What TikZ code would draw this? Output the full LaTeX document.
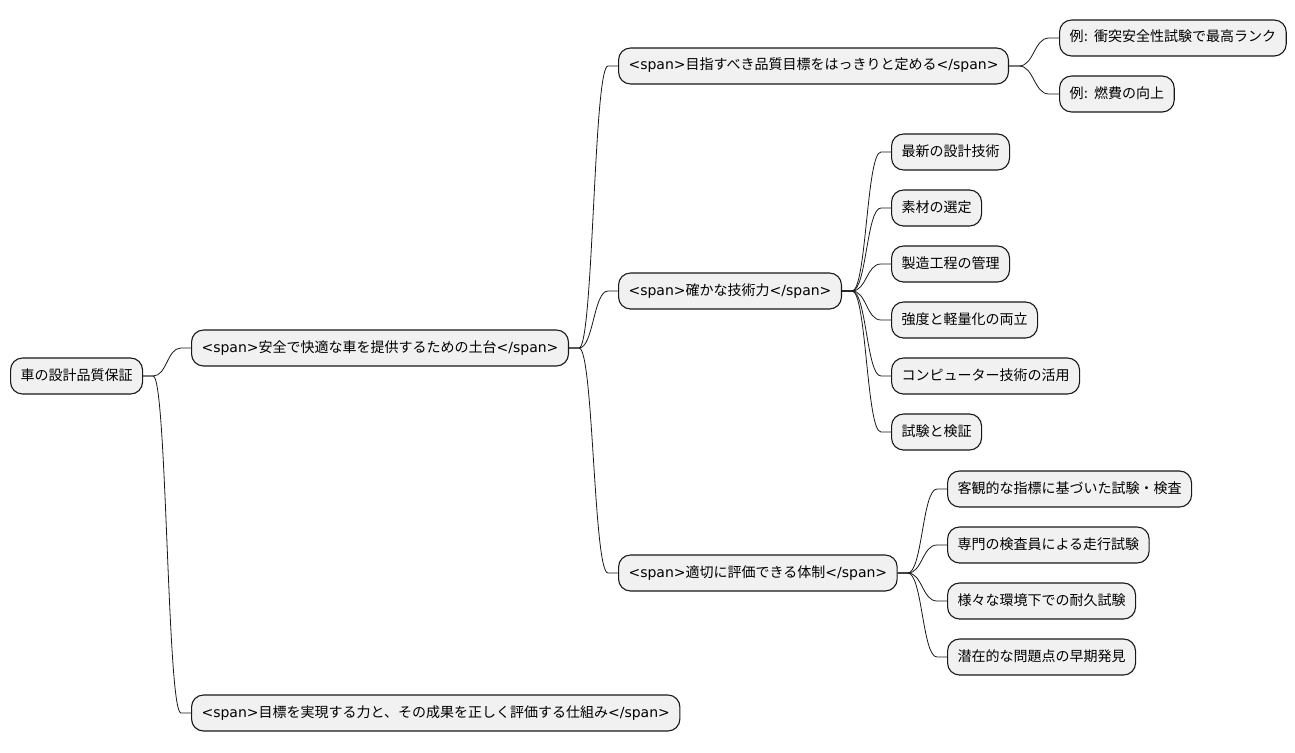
\documentclass[tikz,border=0pt]{standalone}
\usepackage{fontspec}
\setmainfont{DejaVu Sans}
\newfontfamily\jp{Noto Sans CJK JP}
\usetikzlibrary{calc}
\definecolor{mmfill}{RGB}{241,241,241}
\definecolor{mmline}{RGB}{24,24,24}
\newcommand\mmlink[2]{%
  \draw[conn] let \p1=(#1.east), \p2=(#2.west) in
    (\p1) -- (\x1+10pt,\y1)
    .. controls ({(\x1+\x2)/2},\y1) and ({(\x1+\x2)/2},\y2) ..
    (\x2-10pt,\y2) -- (\p2);}
\begin{document}
\begin{tikzpicture}[x=1pt,y=-1pt,
  mm/.style={draw=mmline, fill=mmfill, rounded corners=12pt, line width=1.1pt,
    minimum height=36pt, inner xsep=10pt, inner ysep=0pt, anchor=west,
    text height=11pt, text depth=3pt, font=\fontsize{14}{17}\selectfont},
  conn/.style={draw=mmline, line width=0.8pt}]
\useasboundingbox (0,0) rectangle (1295,752);
\node[mm] (root) at (10,376) {\jp 車の設計品質保証};
\node[mm] (a) at (191,348) {<span>{\jp 安全で快適な車を提供するための土台}</span>};
\node[mm] (b) at (191,713) {<span>{\jp 目標を実現する力と、その成果を正しく評価する仕組み}</span>};
\node[mm] (c1) at (618,66) {<span>{\jp 目指すべき品質目標をはっきりと定める}</span>};
\node[mm] (c2) at (618,291) {<span>{\jp 確かな技術力}</span>};
\node[mm] (c3) at (618,573) {<span>{\jp 適切に評価できる体制}</span>};
\node[mm] (d1) at (1059,38) {{\jp 例}: {\jp 衝突安全性試験で最高ランク}};
\node[mm] (d2) at (1059,94) {{\jp 例}: {\jp 燃費の向上}};
\node[mm] (e1) at (891,152) {\jp 最新の設計技術};
\node[mm] (e2) at (891,208) {\jp 素材の選定};
\node[mm] (e3) at (891,264) {\jp 製造工程の管理};
\node[mm] (e4) at (891,320) {\jp 強度と軽量化の両立};
\node[mm] (e5) at (891,376) {\jp コンピューター技術の活用};
\node[mm] (e6) at (891,432) {\jp 試験と検証};
\node[mm] (f1) at (947,489) {\jp 客観的な指標に基づいた試験・検査};
\node[mm] (f2) at (947,545) {\jp 専門の検査員による走行試験};
\node[mm] (f3) at (947,601) {\jp 様々な環境下での耐久試験};
\node[mm] (f4) at (947,657) {\jp 潜在的な問題点の早期発見};
\mmlink{root}{a}
\mmlink{root}{b}
\mmlink{a}{c1}
\mmlink{a}{c2}
\mmlink{a}{c3}
\mmlink{c1}{d1}
\mmlink{c1}{d2}
\mmlink{c2}{e1}
\mmlink{c2}{e2}
\mmlink{c2}{e3}
\mmlink{c2}{e4}
\mmlink{c2}{e5}
\mmlink{c2}{e6}
\mmlink{c3}{f1}
\mmlink{c3}{f2}
\mmlink{c3}{f3}
\mmlink{c3}{f4}
\end{tikzpicture}
\end{document}
